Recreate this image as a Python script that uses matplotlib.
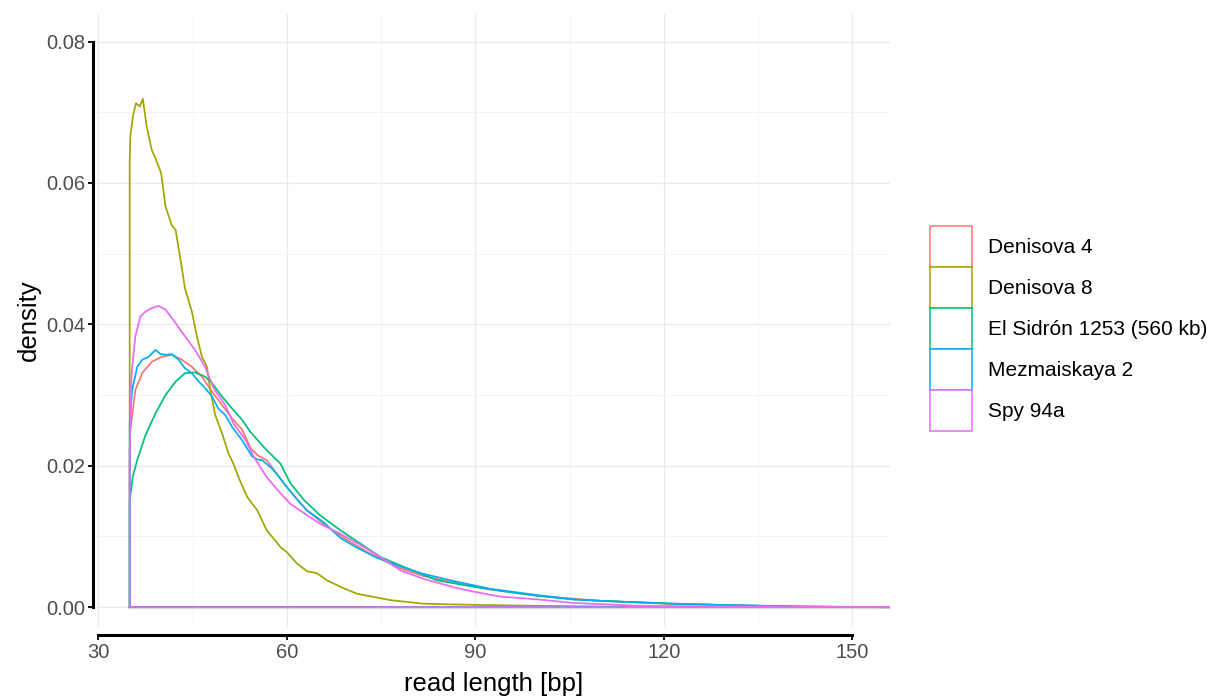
import matplotlib
matplotlib.use("Agg")
import matplotlib.pyplot as plt
from matplotlib.patches import Patch

plt.rcParams['font.family'] = ['Liberation Sans', 'DejaVu Sans']

labels = ["Denisova 4", "Denisova 8", "El Sidrón 1253 (560 kb)", "Mezmaiskaya 2", "Spy 94a"]
colors = ["#F8766D", "#A3A500", "#00BF7D", "#00B0F6", "#E76BF3"]

# density curves (read length in bp, density)
den4_x = [35, 35.1, 35.9, 37, 38.5, 40.1, 41.7, 43.3, 44.9, 46.5, 48.1, 49.7, 51.3, 52.9, 54.3,
          55.5, 56.8, 58.4, 60, 61.6, 63.2, 66.4, 69.6, 72.8, 75.9, 78.1, 81.8, 87.1, 92.4, 100,
          110, 120, 130, 140, 150, 156]
den4_y = [0.022, 0.025, 0.0307, 0.0331, 0.0347, 0.0354, 0.0357, 0.035, 0.034, 0.0326, 0.0305,
          0.0286, 0.0267, 0.0251, 0.0224, 0.0214, 0.0208, 0.0189, 0.017, 0.0153, 0.0137, 0.0114,
          0.0095, 0.0078, 0.0064, 0.0055, 0.0044, 0.0034, 0.0025, 0.0016, 0.0009, 0.0005, 0.0003,
          0.0001, 0.00003, 0]

den8_x = [35, 35.1, 35.5, 36.0, 36.6, 37.1, 37.7, 38.5, 39.1, 40.0, 40.7, 41.7, 42.3, 43.1, 43.8,
          44.9, 45.7, 46.5, 47.3, 47.8, 48.6, 49.7, 50.7, 51.5, 52.5, 53.7, 55.3, 56.8, 59, 60,
          61.6, 63.2, 64.8, 66.4, 69, 71.2, 76.5, 81.7, 86, 92, 100, 110, 120, 156]
den8_y = [0.063, 0.0665, 0.0694, 0.0713, 0.0708, 0.0719, 0.068, 0.0647, 0.0635, 0.0614, 0.0567,
          0.054, 0.0534, 0.0491, 0.0451, 0.0418, 0.0383, 0.0354, 0.034, 0.0309, 0.0272, 0.0246,
          0.0218, 0.0203, 0.018, 0.0156, 0.0137, 0.0109, 0.0085, 0.0078, 0.0062, 0.0051, 0.0048,
          0.0038, 0.0027, 0.0019, 0.001, 0.0005, 0.0004, 0.0003, 0.0002, 0.0001, 0.00005, 0]

sidron_x = [35, 35.5, 36.2, 37.5, 39.1, 40.7, 42.3, 43.8, 45.4, 47, 48.1, 49.7, 51.3, 52.9, 54.2,
            55.5, 56.8, 59, 60.6, 62.7, 65.3, 68.5, 71.7, 74.9, 78.1, 83.9, 89.7, 95, 100, 105.6,
            110, 121.5, 130, 141.7, 156]
sidron_y = [0.015, 0.0185, 0.0208, 0.0243, 0.0274, 0.03, 0.0319, 0.0331, 0.0332, 0.0326, 0.0317,
            0.0298, 0.0281, 0.0265, 0.0248, 0.0235, 0.0222, 0.0203, 0.0175, 0.0152, 0.013, 0.0109,
            0.009, 0.0071, 0.0059, 0.0038, 0.0029, 0.0022, 0.0016, 0.0011, 0.0009, 0.0005, 0.0003,
            0.0001, 0]

mez_x = [35, 35.4, 36.2, 37, 38, 39.1, 39.9, 40.7, 41.7, 42.8, 43.8, 44.9, 46, 47, 48.1, 49.1,
         50.2, 51.3, 52.9, 54.5, 55.3, 56.1, 57.9, 60, 61.6, 63.2, 65.9, 68.5, 71.2, 74.3, 78.6,
         81.8, 87.1, 92.4, 100, 105.6, 110, 121.5, 130, 141.7, 156]
mez_y = [0.026, 0.0307, 0.034, 0.035, 0.0354, 0.0364, 0.0358, 0.0357, 0.0358, 0.035, 0.0338,
         0.0331, 0.0319, 0.031, 0.0298, 0.0281, 0.0272, 0.0255, 0.0236, 0.0213, 0.0209, 0.0208,
         0.0194, 0.017, 0.0153, 0.0137, 0.012, 0.0098, 0.0084, 0.007, 0.0056, 0.0047, 0.0036,
         0.0026, 0.0017, 0.0011, 0.0009, 0.0005, 0.0003, 0.0001, 0]

spy_x = [35, 35.3, 35.9, 36.7, 37.5, 38.5, 39.6, 40.7, 42.3, 43.8, 45.4, 47, 48.4, 50.2, 51.5,
         53.4, 54.8, 56.8, 59, 60.6, 62.1, 65.3, 68.5, 71.7, 74.9, 78.1, 81.8, 87.1, 89.7, 94,
         100, 105.6, 116, 130, 156]
spy_y = [0.022, 0.033, 0.0383, 0.0411, 0.0418, 0.0423, 0.0426, 0.0421, 0.0402, 0.0383, 0.0364,
         0.034, 0.0309, 0.0286, 0.026, 0.0237, 0.0212, 0.0184, 0.0161, 0.0146, 0.0137, 0.0118,
         0.0104, 0.0088, 0.0071, 0.0052, 0.004, 0.0027, 0.0022, 0.0015, 0.0011, 0.0006, 0.0002,
         0.0001, 0]

series = [(den4_x, den4_y), (den8_x, den8_y), (sidron_x, sidron_y), (mez_x, mez_y), (spy_x, spy_y)]

fig = plt.figure(figsize=(12.21, 6.98), dpi=100)
ax = fig.add_axes([97 / 1221, 71 / 698, 793 / 1221, 613 / 698])

# grid
ax.set_xticks([30, 60, 90, 120, 150])
ax.set_xticks([45, 75, 105, 135], minor=True)
ax.set_yticks([0, 0.02, 0.04, 0.06, 0.08])
ax.set_yticks([0.01, 0.03, 0.05, 0.07], minor=True)
ax.grid(which='major', color='#EBEBEB', linewidth=1.0)
ax.grid(which='minor', color='#F3F3F3', linewidth=0.6)
ax.set_axisbelow(True)

# closed density outlines, like geom_density
for (xs, ys), c in zip(series, colors):
    px = [xs[0]] + xs + [xs[-1], xs[0]]
    py = [0] + ys + [0, 0]
    ax.plot(px, py, color=c, linewidth=1.25, solid_joinstyle='round')

ax.set_xlim(29.8, 156)
ax.set_ylim(-0.0028, 0.0839)
ax.set_yticklabels(["0.00", "0.02", "0.04", "0.06", "0.08"])

for s in ['top', 'right']:
    ax.spines[s].set_visible(False)
ax.spines['left'].set_position(('outward', 3))
ax.spines['bottom'].set_position(('outward', 6))
ax.spines['left'].set_bounds(0, 0.08)
ax.spines['bottom'].set_bounds(30, 150)
for s in ['left', 'bottom']:
    ax.spines[s].set_linewidth(2.2)
ax.tick_params(which='major', length=3.5, width=1.3, color='black', labelsize=14.5,
               labelcolor='#4D4D4D', pad=2)
ax.tick_params(which='minor', length=0)

ax.set_xlabel("read length [bp]", fontsize=18.5, labelpad=7)
ax.set_ylabel("density", fontsize=18.5, labelpad=4)

handles = [Patch(facecolor='white', edgecolor=c, linewidth=1.1) for c in colors]
fig.legend(handles, labels, loc='upper left', bbox_to_anchor=(930 / 1221, 1 - 226 / 698),
           frameon=False, fontsize=15, handlelength=2.02, handleheight=2.65, labelspacing=0,
           handletextpad=0.77, borderpad=0, borderaxespad=0)

fig.savefig("out.png", dpi=100)
